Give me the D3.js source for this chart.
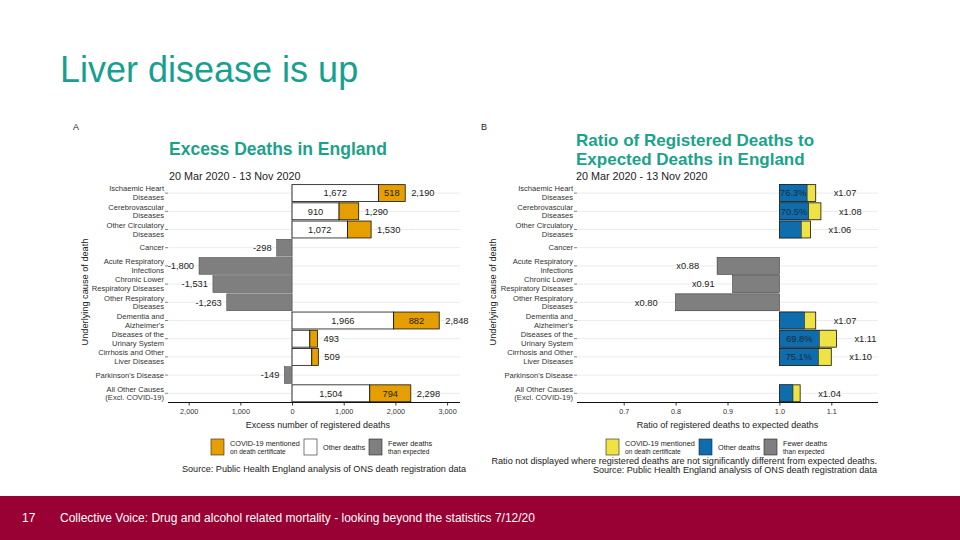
<!DOCTYPE html>
<html><head><meta charset="utf-8">
<script src="https://cdn.jsdelivr.net/npm/d3@7"></script>
<style>body{margin:0;background:#fff;}svg{display:block;font-family:"Liberation Sans",Arial,sans-serif;}</style>
</head><body><svg id="c" width="960" height="540"></svg>
<script>
// ---- data ----
const categories = [
  ["Ischaemic Heart","Diseases"],["Cerebrovascular","Diseases"],["Other Circulatory","Diseases"],
  ["Cancer"],["Acute Respiratory","Infections"],["Chronic Lower","Respiratory Diseases"],
  ["Other Respiratory","Diseases"],["Dementia and","Alzheimer's"],["Diseases of the","Urinary System"],
  ["Cirrhosis and Other","Liver Diseases"],["Parkinson's Disease"],["All Other Causes","(Excl. COVID-19)"]
];
const otherDeaths = [1672, 910, 1072, 0, 0, 0, 0, 1966, 344, 382, 0, 1504];
const covidDeaths = [518, 380, 458, 0, 0, 0, 0, 882, 149, 127, 0, 794];
const fewerDeaths = [0, 0, 0, -298, -1800, -1531, -1263, 0, 0, 0, -149, 0];
const ratios = [1.07, 1.08, 1.06, null, 0.88, 0.91, 0.80, 1.07, 1.11, 1.10, null, 1.04];
const otherShare = [76.3, 70.5, 70.1, null, null, null, null, 69.0, 69.8, 75.1, null, 65.5];
const pctShown = [true, true, false, false, false, false, false, false, true, true, false, false];
const ticksA = [-2000, -1000, 0, 1000, 2000, 3000];
const ticksB = [0.7, 0.8, 0.9, 1.0, 1.1];

const ORANGE="#E69F00", BLUE="#0F6DAE", YELLOW="#EEE244", GREY="#7F7F7F", TEAL="#1AA28A";
const svg = d3.select("#c");
const keys = categories.map((c,i)=>"c"+i);
const y = d3.scaleBand().domain(keys).range([184, 402.4]).paddingInner(0.07).paddingOuter(0.035);
const fmt = v => (v<0?"-":"") + d3.format(",")(Math.abs(v));

// ---- page ----
svg.append("text").attr("x",60).attr("y",82).attr("fill","#17A08F").attr("font-size",36).text("Liver disease is up");
svg.append("rect").attr("x",0).attr("y",496).attr("width",960).attr("height",44).attr("fill","#990033");
svg.append("text").attr("x",22).attr("y",522).attr("fill","#fff").attr("font-size",12).text("17");
svg.append("text").attr("x",60).attr("y",522).attr("fill","#fff").attr("font-size",12).text("Collective Voice: Drug and alcohol related mortality - looking beyond the statistics 7/12/20");

function yAxis(g, axisX, titleX) {
  keys.forEach((k,i)=>{
    const cy = y(k)+y.bandwidth()/2;
    g.append("line").attr("x1",axisX-3).attr("x2",axisX).attr("y1",cy).attr("y2",cy).attr("stroke","#333").attr("stroke-width",0.6);
    const lines = categories[i];
    const t = g.append("text").attr("x",axisX-4).attr("text-anchor","end").attr("font-size",7.6).attr("fill","#333");
    lines.forEach((l,j)=>{
      t.append("tspan").attr("x",axisX-4).attr("y", cy + 2.7 + (j - (lines.length-1)/2)*8.8).text(l);
    });
  });
  g.append("text").attr("transform",`translate(${titleX},292) rotate(-90)`).attr("text-anchor","middle")
    .attr("font-size",9.2).attr("fill","#222").text("Underlying cause of death");
}

function grid(g, x0, x1) {
  keys.forEach(k=>{
    const cy = y(k)+y.bandwidth()/2;
    g.append("line").attr("x1",x0).attr("x2",x1).attr("y1",cy).attr("y2",cy).attr("stroke","#E6E6E6").attr("stroke-width",0.8);
  });
}

function legendItem(g, x, fill, lines) {
  g.append("rect").attr("x",x).attr("y",439).attr("width",13).attr("height",16).attr("fill",fill).attr("stroke","#222").attr("stroke-width",0.6);
  lines.forEach((l,j)=>{
    g.append("text").attr("x",x+19).attr("y", lines.length===1 ? 450 : 446 + j*8).attr("font-size", j===0?7.3:6.6).attr("fill","#222").text(l);
  });
}

// ---- Panel A ----
const gA = svg.append("g");
const xA = d3.scaleLinear().domain([-2400, 3250]).range([168, 460]);
gA.append("text").attr("x",73).attr("y",130).attr("font-size",9).attr("fill","#222").text("A");
gA.append("text").attr("x",169).attr("y",155).attr("font-size",17.5).attr("font-weight","bold").attr("fill",TEAL).text("Excess Deaths in England");
gA.append("text").attr("x",169).attr("y",180).attr("font-size",10.8).attr("fill","#222").text("20 Mar 2020 - 13 Nov 2020");
grid(gA, 168, 460);
gA.append("line").attr("x1",xA(0)).attr("x2",xA(0)).attr("y1",184).attr("y2",402).attr("stroke","#999").attr("stroke-width",0.8);
keys.forEach((k,i)=>{
  const y0 = y(k), h = y.bandwidth(), cy = y0+h/2+3.3;
  if (fewerDeaths[i] < 0) {
    gA.append("rect").attr("x",xA(fewerDeaths[i])).attr("y",y0).attr("width",xA(0)-xA(fewerDeaths[i])).attr("height",h)
      .attr("fill",GREY).attr("stroke","#444").attr("stroke-width",0.5);
    gA.append("text").attr("x",xA(fewerDeaths[i])-5).attr("y",cy).attr("text-anchor","end").attr("font-size",9.3).attr("fill","#222").text(fmt(fewerDeaths[i]));
  } else {
    const o = otherDeaths[i], c = covidDeaths[i], tot = o + c;
    gA.append("rect").attr("x",xA(0)).attr("y",y0).attr("width",xA(o)-xA(0)).attr("height",h).attr("fill","#fff").attr("stroke","#111").attr("stroke-width",0.8);
    gA.append("rect").attr("x",xA(o)).attr("y",y0).attr("width",xA(tot)-xA(o)).attr("height",h).attr("fill",ORANGE).attr("stroke","#111").attr("stroke-width",0.8);
    if (o >= 900) gA.append("text").attr("x",(xA(0)+xA(o))/2).attr("y",cy).attr("text-anchor","middle").attr("font-size",9.3).attr("fill","#222").text(fmt(o));
    if (c >= 500) gA.append("text").attr("x",(xA(o)+xA(tot))/2).attr("y",cy).attr("text-anchor","middle").attr("font-size",9.3).attr("fill","#222").text(fmt(c));
    gA.append("text").attr("x",xA(tot)+6).attr("y",cy).attr("font-size",9.3).attr("fill","#222").text(fmt(tot));
  }
});
yAxis(gA, 168, 88);
const axA = gA.append("g").attr("transform","translate(0,402.5)")
  .call(d3.axisBottom(xA).tickValues(ticksA).tickFormat(d=>d3.format(",")(Math.abs(d))).tickSize(3).tickPadding(3));
axA.select(".domain").attr("stroke","#111").attr("d",`M168,0H460`);
axA.selectAll(".tick line").attr("stroke","#333");
axA.selectAll("text").attr("font-size",7.3).attr("fill","#333").attr("font-family","Liberation Sans, Arial, sans-serif");
gA.append("text").attr("x",xA(500)).attr("y",428).attr("text-anchor","middle").attr("font-size",9).attr("fill","#222").text("Excess number of registered deaths");
legendItem(gA, 211, ORANGE, ["COVID-19 mentioned","on death certificate"]);
legendItem(gA, 304, "#fff", ["Other deaths"]);
legendItem(gA, 369, GREY, ["Fewer deaths","than expected"]);
gA.append("text").attr("x",182).attr("y",472).attr("font-size",9.1).attr("fill","#222").text("Source: Public Health England analysis of ONS death registration data");

// ---- Panel B ----
const gB = svg.append("g");
const xB = d3.scaleLinear().domain([0.61, 1.19]).range([577, 878]);
gB.append("text").attr("x",481).attr("y",130).attr("font-size",9).attr("fill","#222").text("B");
gB.append("text").attr("x",576).attr("y",145.5).attr("font-size",17).attr("font-weight","bold").attr("fill",TEAL).text("Ratio of Registered Deaths to");
gB.append("text").attr("x",576).attr("y",164.6).attr("font-size",17).attr("font-weight","bold").attr("fill",TEAL).text("Expected Deaths in England");
gB.append("text").attr("x",576).attr("y",180).attr("font-size",10.8).attr("fill","#222").text("20 Mar 2020 - 13 Nov 2020");
grid(gB, 577, 878);
keys.forEach((k,i)=>{
  const r = ratios[i];
  if (r === null) return;
  const y0 = y(k), h = y.bandwidth(), cy = y0+h/2+3.3;
  if (r < 1) {
    gB.append("rect").attr("x",xB(r)).attr("y",y0).attr("width",xB(1)-xB(r)).attr("height",h).attr("fill",GREY).attr("stroke","#333").attr("stroke-width",0.6);
    gB.append("text").attr("x",xB(r)-18).attr("y",cy).attr("text-anchor","end").attr("font-size",9.3).attr("fill","#222").text("x"+r.toFixed(2));
  } else {
    const frac = otherShare[i]/100;
    const mid = 1 + (r-1)*frac;
    gB.append("rect").attr("x",xB(1)).attr("y",y0).attr("width",xB(r)-xB(1)).attr("height",h).attr("fill",YELLOW).attr("stroke","#111").attr("stroke-width",0.8);
    gB.append("rect").attr("x",xB(1)).attr("y",y0).attr("width",xB(mid)-xB(1)).attr("height",h).attr("fill",BLUE).attr("stroke","#111").attr("stroke-width",0.5);
    if (pctShown[i]) gB.append("text").attr("x",(xB(1)+xB(mid))/2).attr("y",cy).attr("text-anchor","middle").attr("font-size",9.3).attr("fill","#1b2a3a").text(otherShare[i].toFixed(1)+"%");
    gB.append("text").attr("x",xB(r)+18).attr("y",cy).attr("font-size",9.3).attr("fill","#222").text("x"+r.toFixed(2));
  }
});
yAxis(gB, 577, 496);
const axB = gB.append("g").attr("transform","translate(0,402.5)")
  .call(d3.axisBottom(xB).tickValues(ticksB).tickFormat(d3.format(".1f")).tickSize(3).tickPadding(3));
axB.select(".domain").attr("stroke","#111").attr("d",`M577,0H878`);
axB.selectAll(".tick line").attr("stroke","#333");
axB.selectAll("text").attr("font-size",7.3).attr("fill","#333").attr("font-family","Liberation Sans, Arial, sans-serif");
gB.append("text").attr("x",xB(0.9)).attr("y",428).attr("text-anchor","middle").attr("font-size",9).attr("fill","#222").text("Ratio of registered deaths to expected deaths");
legendItem(gB, 606, YELLOW, ["COVID-19 mentioned","on death certificate"]);
legendItem(gB, 699, BLUE, ["Other deaths"]);
legendItem(gB, 764, GREY, ["Fewer deaths","than expected"]);
gB.append("text").attr("x",877).attr("y",464).attr("text-anchor","end").attr("font-size",9.1).attr("fill","#222").text("Ratio not displayed where registered deaths are not significantly different from expected deaths.");
gB.append("text").attr("x",877).attr("y",473).attr("text-anchor","end").attr("font-size",9.1).attr("fill","#222").text("Source: Public Health England analysis of ONS death registration data");
</script></body></html>
